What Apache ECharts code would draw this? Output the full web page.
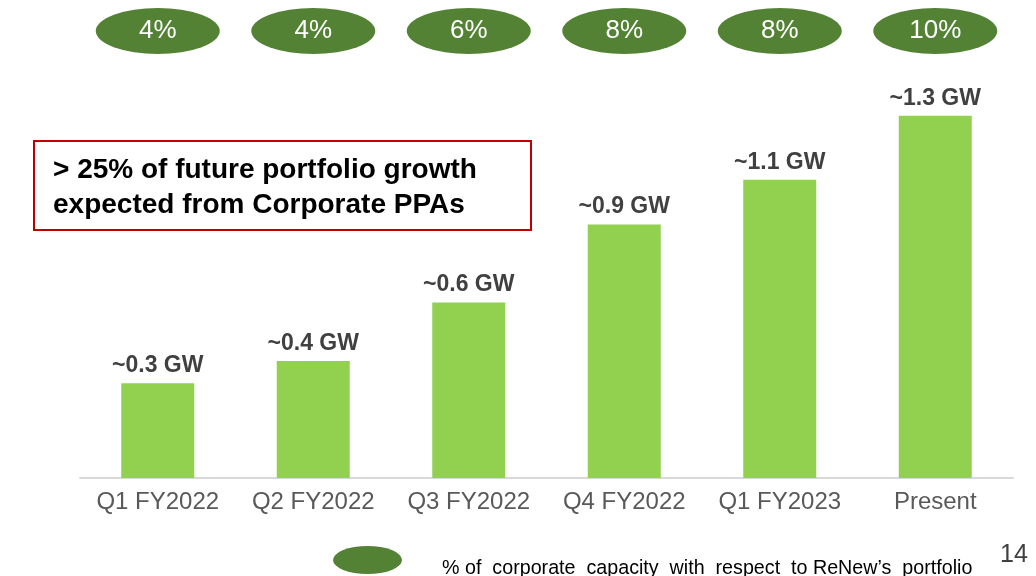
<!DOCTYPE html>
<html>
<head>
<meta charset="utf-8">
<script src="https://cdn.jsdelivr.net/npm/echarts@6/dist/echarts.min.js"></script>
<style>
  html, body { margin: 0; padding: 0; background: #fff; }
  #main { width: 1036px; height: 576px; }
</style>
</head>
<body>
<div id="main"></div>
<script>
// chart data
var categories = ['Q1 FY2022', 'Q2 FY2022', 'Q3 FY2022', 'Q4 FY2022', 'Q1 FY2023', 'Present'];
var capacityGW = [0.34, 0.42, 0.63, 0.91, 1.07, 1.30];
var capacityLabels = ['~0.3 GW', '~0.4 GW', '~0.6 GW', '~0.9 GW', '~1.1 GW', '~1.3 GW'];
var corporateShare = ['4%', '4%', '6%', '8%', '8%', '10%'];
var shareName = '% of  corporate  capacity  with  respect  to ReNew\u2019s  portfolio';

var FONT = 'Arial, "Liberation Sans", sans-serif';
var ELLIPSE = 'path://M0,50 A50,50 0 1,1 100,50 A50,50 0 1,1 0,50 Z';

var myChart = echarts.init(document.getElementById('main'), null, { renderer: 'canvas' });

var option = {
    backgroundColor: '#ffffff',
    animation: false,
    textStyle: { fontFamily: FONT },
    grid: [
        { left: 80, right: 23, top: 60, bottom: 98 },   // bars
        { left: 80, right: 23, top: 8, height: 46 }     // share ellipses
    ],
    legend: {
        data: [{ name: shareName, icon: ELLIPSE }],
        left: 333,
        top: 546,
        padding: 0,
        itemWidth: 69,
        itemHeight: 28,
        symbolKeepAspect: false,
        selectedMode: false,
        formatter: function (name) { return '{gap|}{t|' + name + '}'; },
        textStyle: {
            fontFamily: FONT,
            color: '#000000',
            rich: {
                gap: { width: 35 },
                t: { fontFamily: FONT, fontSize: 19.7, color: '#000000', padding: [17, 0, 0, 0] }
            }
        }
    },
    xAxis: [
        {
            type: 'category',
            gridIndex: 0,
            data: categories,
            axisTick: { show: false },
            axisLine: { lineStyle: { color: '#d9d9d9', width: 2 } },
            axisLabel: { fontFamily: FONT, fontSize: 24, color: '#595959', margin: 12, interval: 0 }
        },
        {
            type: 'category',
            gridIndex: 1,
            data: categories,
            show: false
        }
    ],
    yAxis: [
        { type: 'value', gridIndex: 0, min: 0, max: 1.5, show: false, splitLine: { show: false } },
        { type: 'value', gridIndex: 1, min: 0, max: 1, show: false, splitLine: { show: false } }
    ],
    series: [
        {
            type: 'bar',
            xAxisIndex: 0,
            yAxisIndex: 0,
            barWidth: 73,
            data: capacityGW,
            itemStyle: { color: '#92d050' },
            label: {
                show: true,
                position: 'top',
                distance: 6,
                fontFamily: FONT,
                fontSize: 23,
                fontWeight: 'bold',
                color: '#404040',
                formatter: function (p) { return capacityLabels[p.dataIndex]; }
            }
        },
        {
            name: shareName,
            type: 'scatter',
            xAxisIndex: 1,
            yAxisIndex: 1,
            symbol: ELLIPSE,
            symbolSize: [124, 46],
            symbolKeepAspect: false,
            data: corporateShare.map(function () { return 0.5; }),
            itemStyle: { color: '#548235', opacity: 1 },
            label: {
                show: true,
                position: 'inside',
                fontFamily: FONT,
                fontSize: 26,
                color: '#ffffff',
                formatter: function (p) { return corporateShare[p.dataIndex]; }
            },
            emphasis: { disabled: true }
        }
    ],
    graphic: [
        {
            type: 'rect',
            left: 33,
            top: 140,
            shape: { width: 497, height: 89 },
            style: { fill: '#ffffff', stroke: '#c00000', lineWidth: 2 }
        },
        {
            type: 'text',
            left: 53,
            top: 153,
            style: {
                text: '> 25% of future portfolio growth\nexpected from Corporate PPAs',
                font: 'bold 28px ' + FONT,
                fill: '#000000',
                lineHeight: 35
            }
        },
        {
            type: 'text',
            left: 1000,
            top: 543,
            style: { text: '14', font: '25px ' + FONT, fill: '#404040' }
        }
    ]
};

option && myChart.setOption(option);
</script>
</body>
</html>
